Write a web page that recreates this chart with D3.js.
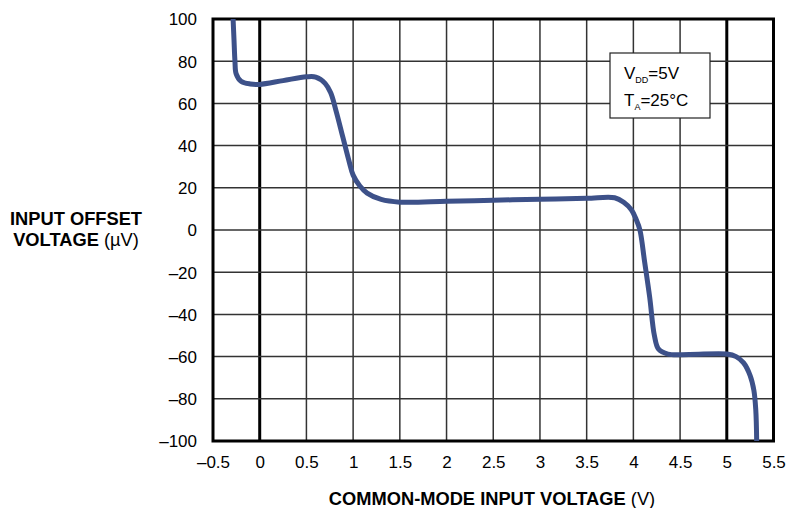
<!DOCTYPE html>
<html>
<head>
<meta charset="utf-8">
<script src="https://cdn.jsdelivr.net/npm/d3@7"></script>
<style>
  body { margin: 0; background: #fff; }
  svg { display: block; font-family: "Liberation Sans", Arial, Helvetica, sans-serif; }
</style>
</head>
<body>
<svg id="chart" width="786" height="508"></svg>
<script>
// ---- data ----
const xTicks = [-0.5, 0, 0.5, 1, 1.5, 2, 2.5, 3, 3.5, 4, 4.5, 5, 5.5];
const xTickLabels = ["–0.5", "0", "0.5", "1", "1.5", "2", "2.5", "3", "3.5", "4", "4.5", "5", "5.5"];
const yTicks = [100, 80, 60, 40, 20, 0, -20, -40, -60, -80, -100];
const yTickLabels = ["100", "80", "60", "40", "20", "0", "–20", "–40", "–60", "–80", "–100"];
const heavyX = [0, 5];
const vcm = [-0.285, -0.275, -0.265, -0.252, -0.2, -0.1, 0, 0.25, 0.5, 0.6, 0.7, 0.76, 0.82, 0.89, 0.96, 1.0, 1.07, 1.15, 1.3, 1.5, 2.0, 2.5, 3.0, 3.5, 3.8, 3.9, 3.98, 4.03, 4.07, 4.12, 4.175, 4.225, 4.27, 4.37, 4.6, 5.0, 5.1, 5.18, 5.25, 5.29, 5.31, 5.32];
const vos = [100, 90, 80, 74, 70.5, 69.2, 69, 70.8, 72.6, 72.5, 69.5, 65, 56, 44, 32, 26, 21, 17.5, 14.5, 13.2, 13.6, 14.1, 14.6, 15.0, 15.3, 13, 9.5, 5, 0, -15, -32, -50, -56.5, -58.8, -59, -58.8, -60, -63, -69, -76, -85, -100];

// ---- layout ----
const svg = d3.select("#chart");
const x = d3.scaleLinear().domain([-0.5, 5.5]).range([213, 773.5]);
const y = d3.scaleLinear().domain([-100, 100]).range([441, 19]);

// grid
const g = svg.append("g");
g.selectAll("line.vx").data(xTicks).enter().append("line")
  .attr("x1", d => x(d)).attr("x2", d => x(d))
  .attr("y1", y(100)).attr("y2", y(-100))
  .attr("stroke", d => heavyX.includes(d) ? "#000" : "#333")
  .attr("stroke-width", d => heavyX.includes(d) ? 3 : 1.5);
g.selectAll("line.hy").data(yTicks).enter().append("line")
  .attr("x1", x(-0.5)).attr("x2", x(5.5))
  .attr("y1", d => y(d)).attr("y2", d => y(d))
  .attr("stroke", "#333").attr("stroke-width", 1.5);

// border
svg.append("rect")
  .attr("x", x(-0.5)).attr("y", y(100))
  .attr("width", x(5.5) - x(-0.5)).attr("height", y(-100) - y(100))
  .attr("fill", "none").attr("stroke", "#000").attr("stroke-width", 3);

// legend box
const lg = svg.append("g");
lg.append("rect").attr("x", 610).attr("y", 53).attr("width", 100).attr("height", 65)
  .attr("fill", "#fff").attr("stroke", "#222").attr("stroke-width", 1.2);
const t1 = lg.append("text").attr("x", 624).attr("y", 79).attr("font-size", 17).attr("fill", "#000");
t1.append("tspan").text("V");
t1.append("tspan").attr("font-size", 9).attr("dy", 4).text("DD");
t1.append("tspan").attr("dy", -4).text("=5V");
const t2 = lg.append("text").attr("x", 624).attr("y", 106).attr("font-size", 17).attr("fill", "#000");
t2.append("tspan").text("T");
t2.append("tspan").attr("font-size", 9).attr("dy", 4).text("A");
t2.append("tspan").attr("dy", -4).text("=25°C");

// curve
const pts = vcm.map((v, i) => [v, vos[i]]);
const line = d3.line().x(d => x(d[0])).y(d => y(d[1])).curve(d3.curveCatmullRom.alpha(0.5));
svg.append("path").datum(pts).attr("d", line)
  .attr("fill", "none").attr("stroke", "#3d5189").attr("stroke-width", 5)
  .attr("stroke-linejoin", "round").attr("stroke-linecap", "butt");

// axes labels
const xAxis = d3.axisBottom(x).tickValues(xTicks).tickSize(0).tickPadding(0)
  .tickFormat((d, i) => xTickLabels[i]);
const xa = svg.append("g").attr("transform", `translate(0,${y(-100)})`).call(xAxis);
xa.select(".domain").remove();
xa.selectAll("text").attr("font-size", 17).attr("font-family", null).attr("fill", "#000")
  .attr("dy", null).attr("y", 27);

const yAxis = d3.axisLeft(y).tickValues(yTicks).tickSize(0).tickPadding(0)
  .tickFormat((d, i) => yTickLabels[i]);
const ya = svg.append("g").attr("transform", `translate(197,0)`).call(yAxis);
ya.select(".domain").remove();
ya.selectAll("text").attr("font-size", 17).attr("font-family", null).attr("fill", "#000")
  .attr("dy", "0.35em").attr("x", 0);

// axis titles
const yt = svg.append("text").attr("text-anchor", "middle").attr("font-size", 18.3).attr("fill", "#000");
yt.append("tspan").attr("x", 76).attr("y", 225).attr("font-weight", "bold").text("INPUT OFFSET");
const yl2 = yt.append("tspan").attr("x", 76).attr("y", 246);
yl2.append("tspan").attr("font-weight", "bold").text("VOLTAGE ");
yl2.append("tspan").text("(µV)");

const xt = svg.append("text").attr("x", 492).attr("y", 505).attr("text-anchor", "middle")
  .attr("font-size", 18.3).attr("fill", "#000");
xt.append("tspan").attr("font-weight", "bold").text("COMMON-MODE INPUT VOLTAGE ");
xt.append("tspan").text("(V)");
</script>
</body>
</html>
